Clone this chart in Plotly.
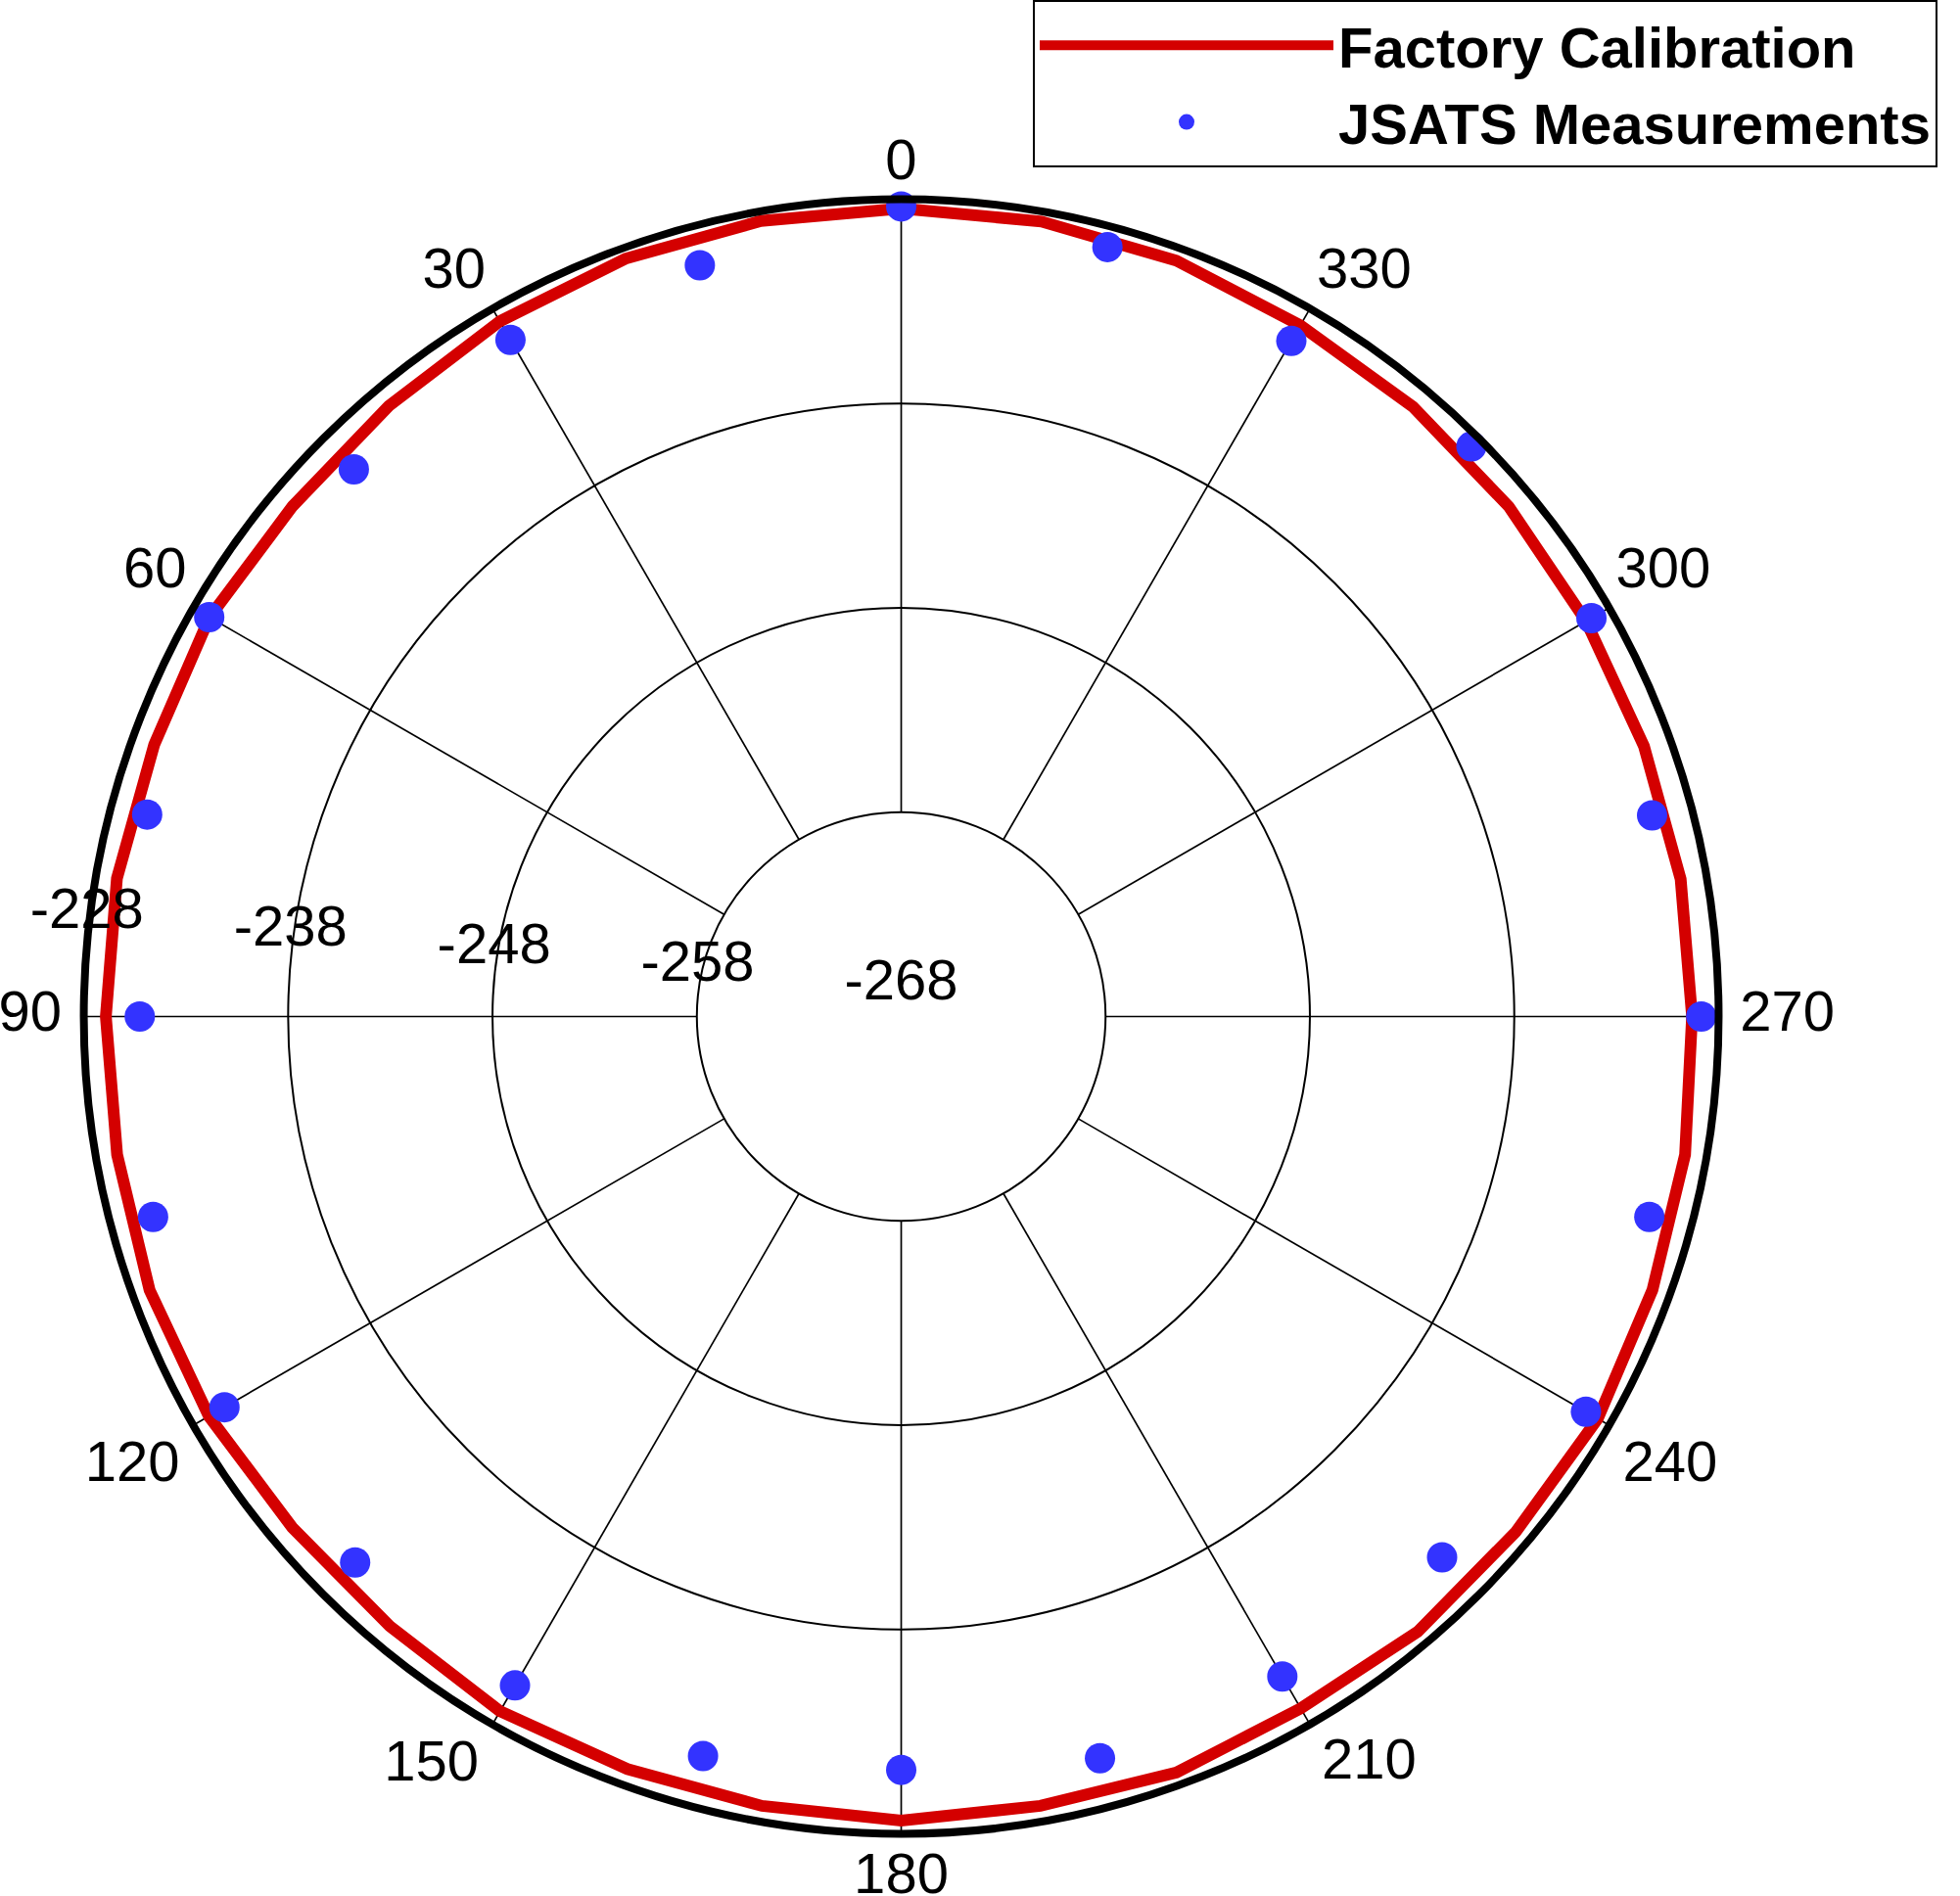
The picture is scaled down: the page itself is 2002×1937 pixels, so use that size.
import plotly.graph_objects as go

# Factory calibration (every 10 degrees)
cal_theta = [0, 10, 20, 30, 40, 50, 60, 70, 80, 90, 100, 110, 120, 130, 140, 150, 160, 170,
             180, 190, 200, 210, 220, 230, 240, 250, 260, 270, 280, 290, 300, 310, 320, 330, 340, 350]
cal_r = [-228.45, -228.46, -228.53, -228.71, -228.99, -229.13, -228.92, -229.1, -229.03, -229.08,
         -229.04, -228.86, -228.88, -229.1, -229.06, -228.74, -228.81, -228.77, -228.65, -228.77,
         -228.62, -228.9, -228.69, -228.75, -228.64, -228.88, -229.05, -229.3, -229.27, -229.32,
         -229.3, -229.18, -229.04, -228.94, -228.63, -228.49]

# JSATS measurements (every 15 degrees)
meas_theta = [0, 15, 30, 45, 60, 75, 90, 105, 120, 135, 150, 165,
              180, 195, 210, 225, 240, 255, 270, 285, 300, 315, 330, 345]
meas_r = [-228.35, -229.93, -229.76, -230.12, -228.9, -229.8, -230.74, -230.1, -229.76, -230.21,
          -230.2, -230.53, -231.13, -230.42, -230.7, -230.57, -229.31, -230.1, -228.85, -229.96,
          -229.0, -228.54, -229.82, -229.01]

ang_ticks = [0, 30, 60, 90, 120, 150, 180, 210, 240, 270, 300, 330]
rad_ticks = [-268, -258, -248, -238, -228]
rad_label_theta = 85  # direction along which the radial tick labels are written

FONT = "Liberation Sans, Arial, sans-serif"

# label placement styles for the angular tick labels (outside the rim)
ang_label_pos = ["top center", "top left", "top left", "middle left", "bottom left", "bottom left",
                 "bottom center", "bottom right", "bottom right", "middle right", "top right", "top right"]
ang_label_pad = [8, 9.6, 9.6, 34.6, 20.8, 20.8, 25, 17.6, 20.8, 33.4, 9.6, 9.6]

# spokes: from the first ring out to the outer edge, at every angular tick
spoke_r, spoke_t = [], []
for t in ang_ticks:
    spoke_r += [rad_ticks[1], rad_ticks[-1], None]
    spoke_t += [t, t, None]

fig = go.Figure()
fig.add_trace(go.Scatterpolar(
    r=spoke_r, theta=spoke_t, mode="lines", showlegend=False, hoverinfo="skip",
    line=dict(color="black", width=1.7)))
fig.add_trace(go.Scatterpolar(
    r=cal_r + cal_r[:1], theta=cal_theta + cal_theta[:1], mode="lines",
    name="Factory Calibration", line=dict(color="#D40000", width=12)))
fig.add_trace(go.Scatterpolar(
    r=meas_r, theta=meas_theta, mode="markers",
    name="JSATS Measurements", marker=dict(color="#3333FF", size=31)))
# radial tick labels, placed through the polar scales
fig.add_trace(go.Scatterpolar(
    r=rad_ticks, theta=[rad_label_theta] * len(rad_ticks), mode="markers+text",
    text=[str(t) for t in rad_ticks], textposition="top center",
    textfont=dict(size=58, family=FONT, color="black"),
    marker=dict(size=4, opacity=0), cliponaxis=False,
    showlegend=False, hoverinfo="skip"))
# angular tick labels, just outside the rim
fig.add_trace(go.Scatterpolar(
    r=[rad_ticks[-1]] * len(ang_ticks), theta=ang_ticks, mode="markers+text",
    text=[str(t) for t in ang_ticks], textposition=ang_label_pos,
    textfont=dict(size=58, family=FONT, color="black"),
    marker=dict(size=ang_label_pad, opacity=0), cliponaxis=False,
    showlegend=False, hoverinfo="skip"))

fig.update_layout(
    width=2002, height=1937,
    margin=dict(l=0, r=0, t=0, b=0),
    paper_bgcolor="white",
    font=dict(family=FONT, size=58, color="black"),
    polar=dict(
        domain=dict(x=[0.0427, 0.8769], y=[0.0328, 0.8949]),
        bgcolor="white",
        angularaxis=dict(
            rotation=90, direction="counterclockwise",
            tickmode="array", tickvals=ang_ticks, showticklabels=False,
            showgrid=False,
            showline=True, linecolor="black", linewidth=8, ticks=""),
        radialaxis=dict(
            range=[rad_ticks[0], rad_ticks[-1]], tickmode="array", tickvals=rad_ticks,
            showticklabels=False, angle=175,
            showline=False, ticks="", showgrid=True, gridcolor="black", gridwidth=1.7),
    ),
    showlegend=True,
    legend=dict(
        x=1055 / 2002, xanchor="left", y=1.0, yanchor="top",
        bgcolor="white", bordercolor="black", borderwidth=2,
        font=dict(size=58, family=FONT, color="black", weight="bold"),
        itemwidth=300, tracegroupgap=0),
)

fig.write_html("out.html", post_script="document.body.style.margin='0';",
               config={"displayModeBar": False})
